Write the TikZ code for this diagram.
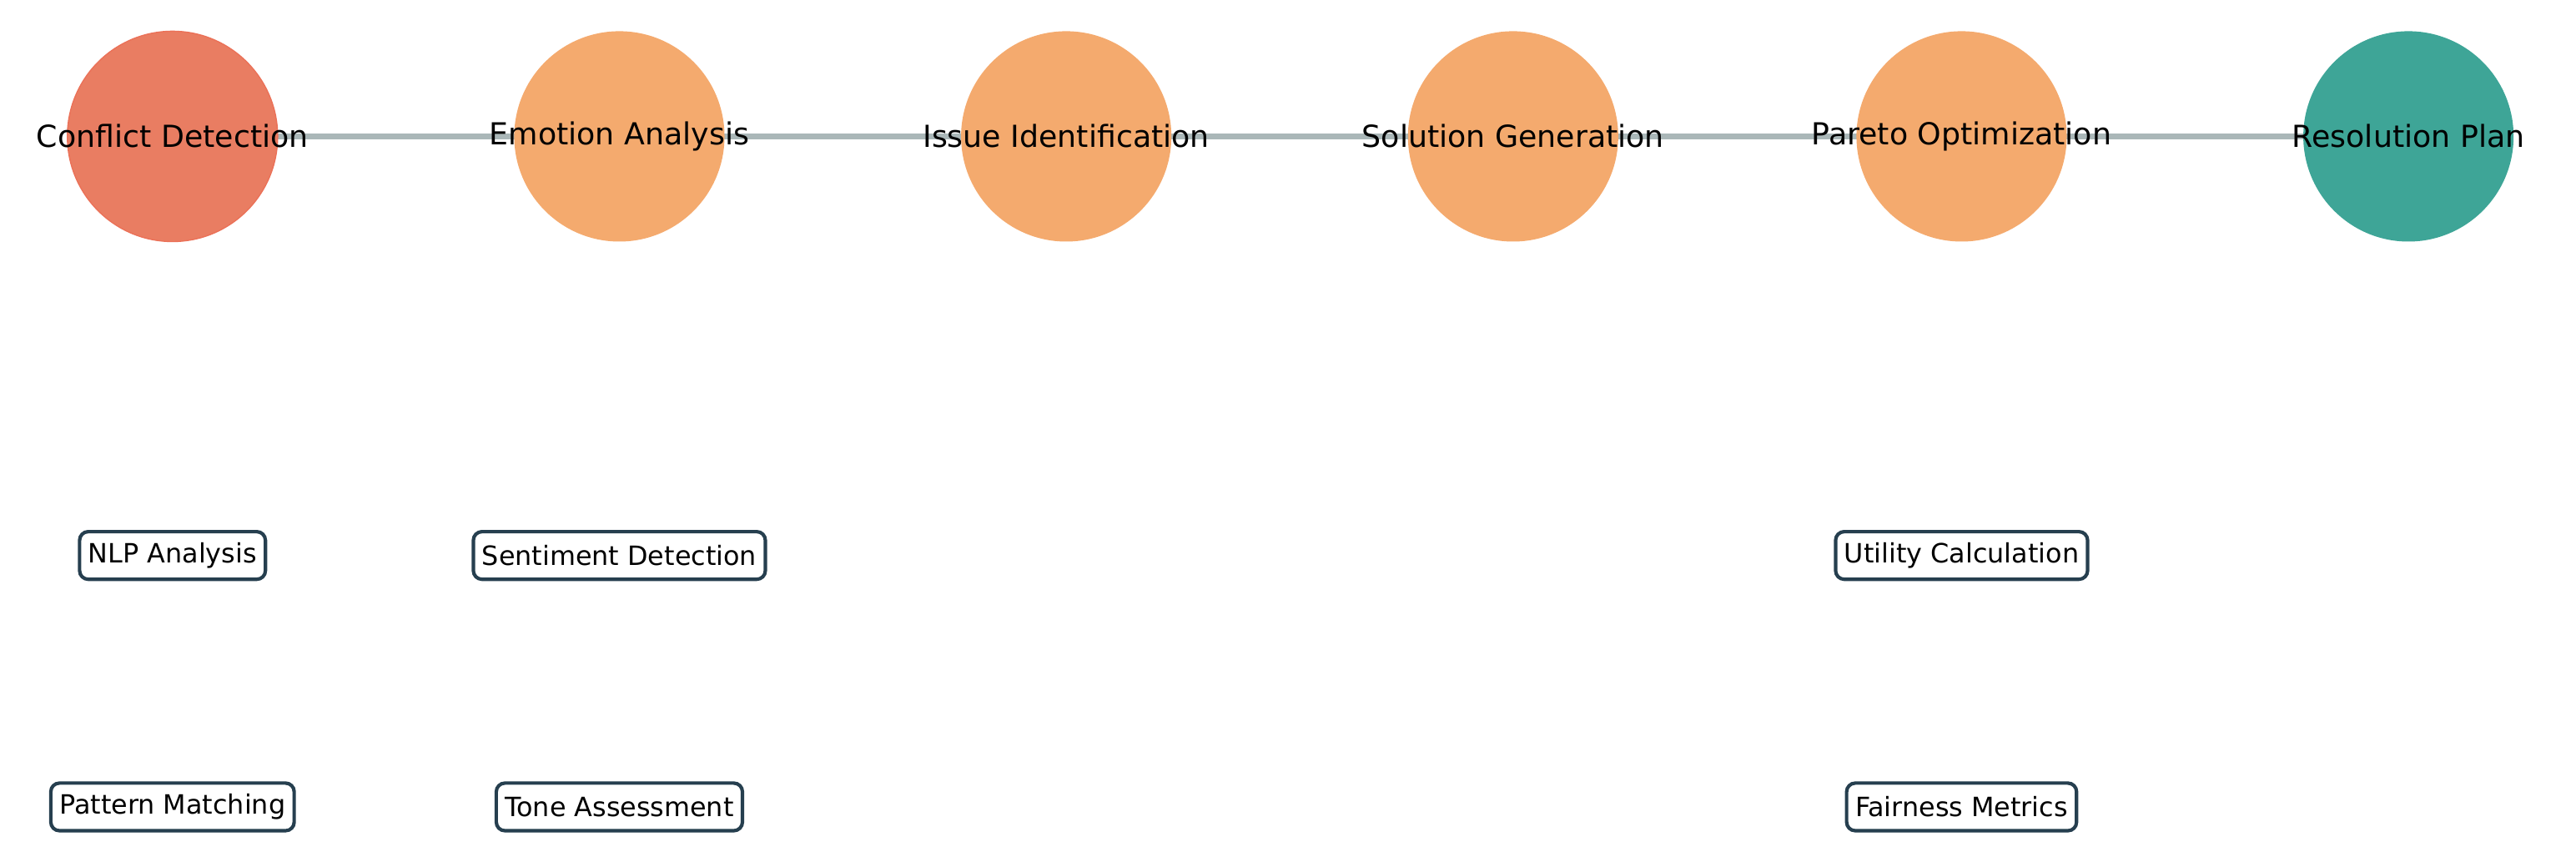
\documentclass[tikz,border=0pt]{standalone}
\usepackage{fontspec}
\setmainfont{DejaVu Sans}
\definecolor{cred}{HTML}{E97D62}
\definecolor{cora}{HTML}{F4AA6E}
\definecolor{cteal}{HTML}{3EA597}
\definecolor{edgec}{HTML}{AAB7B8}
\definecolor{boxc}{HTML}{263F4F}
\begin{document}
\begin{tikzpicture}[x=0.02cm,y=-0.02cm,
  stage/.style={circle,minimum size=2.56cm,inner sep=0pt,font=\fontsize{10.5}{12}\selectfont},
  sub/.style={draw=boxc,line width=1.2pt,rounded corners=3pt,fill=white,minimum height=0.58cm,inner xsep=3pt,inner ysep=0pt,font=\fontsize{9.2}{11}\selectfont},
  link/.style={edgec,line width=1.8pt}]
\useasboundingbox (0,0) rectangle (1568,518.4);
\coordinate (p1) at (105,83);
\coordinate (p2) at (377,83);
\coordinate (p3) at (649,83);
\coordinate (p4) at (921,83);
\coordinate (p5) at (1194,83);
\coordinate (p6) at (1466,83);
\draw[link] (p1) -- (p2) -- (p3) -- (p4) -- (p5) -- (p6);
\fill[cred,draw=cred!90!red] (p1) circle (64);
\fill[cora] (p2) circle (64);
\fill[cora] (p3) circle (64);
\fill[cora] (p4) circle (64);
\fill[cora] (p5) circle (64);
\fill[cteal] (p6) circle (64);
\node[stage] (a) at (p1) {Conflict Detection};
\node[stage] (b) at (p2) {Emotion Analysis};
\node[stage] (c) at (p3) {Issue Identification};
\node[stage] (d) at (p4) {Solution Generation};
\node[stage] (e) at (p5) {Pareto Optimization};
\node[stage] (f) at (p6) {Resolution Plan};
\node[sub] (s1) at (105,338) {NLP Analysis};
\node[sub] (s2) at (105,491) {Pattern Matching};
\node[sub] (s3) at (377,338) {Sentiment Detection};
\node[sub] (s4) at (377,491) {Tone Assessment};
\node[sub] (s5) at (1194,338) {Utility Calculation};
\node[sub] (s6) at (1194,491) {Fairness Metrics};
\end{tikzpicture}
\end{document}
